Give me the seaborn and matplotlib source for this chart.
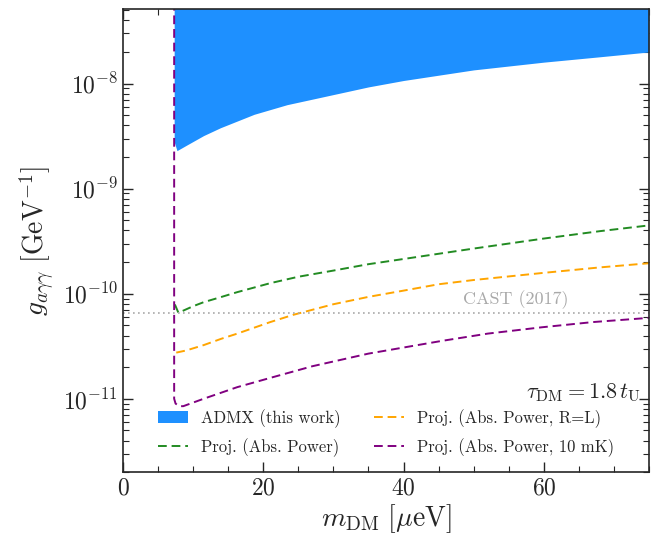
import numpy as np
import pandas as pd
import matplotlib
matplotlib.use('Agg')
import matplotlib.pyplot as plt
import seaborn as sns

# ── Data ──────────────────────────────────────────────────────────────────────
admx_mass  = [7.3, 7.45, 7.7, 9.1, 11.5, 13.9, 18.7, 23.4, 28.2, 35, 40, 50, 60, 68, 75]
admx_lower = [2.8e-9, 2.6e-9, 2.3e-9, 2.6e-9, 3.2e-9, 3.8e-9, 5.1e-9, 6.3e-9,
              7.4e-9, 9.3e-9, 1.07e-8, 1.35e-8, 1.6e-8, 1.8e-8, 2.0e-8]
admx_upper = 1e-7

green_mass = [7.4, 7.9, 8.6, 10, 11.5, 14, 16.3, 21, 25, 30, 35, 40, 50, 60, 68, 75]
green_g    = [7.9e-11, 6.6e-11, 6.9e-11, 7.6e-11, 8.3e-11, 9.3e-11, 1.035e-10,
              1.26e-10, 1.45e-10, 1.66e-10, 1.91e-10, 2.14e-10, 2.69e-10,
              3.35e-10, 3.94e-10, 4.47e-10]

orange_mass = [7.6, 9, 11.5, 14, 16.3, 21, 24.3, 30, 35, 40, 45, 50, 60, 68, 75]
orange_g    = [2.75e-11, 2.88e-11, 3.24e-11, 3.72e-11, 4.17e-11, 5.37e-11, 6.3e-11,
               7.94e-11, 9.33e-11, 1.07e-10, 1.23e-10, 1.35e-10, 1.58e-10,
               1.78e-10, 1.95e-10]

purple_mass = [7.3, 7.3, 7.5, 8.0, 8.6, 11.5, 16.3, 21, 27, 35, 45.4, 52, 59.7, 67, 75]
purple_g    = [6e-8, 1.0e-11, 9.0e-12, 8.5e-12, 8.5e-12, 1.0e-11, 1.29e-11, 1.58e-11,
               2.04e-11, 2.69e-11, 3.55e-11, 4.17e-11, 4.79e-11, 5.37e-11, 5.89e-11]

cast_g = 6.6e-11

# ── Style ─────────────────────────────────────────────────────────────────────
sns.set_style('ticks')
plt.rcParams['font.family'] = 'serif'
plt.rcParams['font.serif'] = ['cmr10', 'DejaVu Serif']
plt.rcParams['mathtext.fontset'] = 'cm'
plt.rcParams['axes.unicode_minus'] = False
plt.rcParams['axes.formatter.use_mathtext'] = True

fig = plt.figure(figsize=(6.61, 5.44), dpi=100)
ax = fig.add_axes([0.186, 0.132, 0.796, 0.851])

ax.fill_between(admx_mass, admx_lower, admx_upper, color='dodgerblue', lw=0,
                label='ADMX (this work)')

dash = (4.5, 2.5)
sns.lineplot(x=green_mass, y=green_g, ax=ax, color='forestgreen', lw=1.4,
             dashes=False, estimator=None, sort=False, label='Proj. (Abs. Power)')
sns.lineplot(x=orange_mass, y=orange_g, ax=ax, color='orange', lw=1.4,
             dashes=False, estimator=None, sort=False, label='Proj. (Abs. Power, R=L)')
sns.lineplot(x=purple_mass, y=purple_g, ax=ax, color='purple', lw=1.4,
             dashes=False, estimator=None, sort=False,
             label='Proj. (Abs. Power, 10 mK)')
for line in ax.get_lines():
    line.set_dashes(dash)

ax.axhline(cast_g, color='darkgray', lw=1.2, ls=(0, (1, 2)))
ax.text(56.0, cast_g * 1.08, 'CAST (2017)', color='darkgray', fontsize=13,
        ha='center', va='bottom')

ax.text(0.985, 0.148, r'$\tau_{\rm DM} = 1.8\, t_{\rm U}$', transform=ax.transAxes,
        ha='right', va='bottom', fontsize=16)

ax.set_yscale('log')
ax.set_xlim(0, 75)
ax.set_ylim(2e-12, 5.1e-8)
ax.set_xticks([0, 20, 40, 60])
ax.xaxis.set_minor_locator(matplotlib.ticker.MultipleLocator(5))
ax.set_xlabel(r'$m_{\rm DM}\ [\mu{\rm eV}]$', fontsize=20, labelpad=2)
ax.set_ylabel(r'$g_{a\gamma\gamma}\ [{\rm GeV}^{-1}]$', fontsize=20)

ax.tick_params(which='both', direction='in', top=True, right=True, labelsize=17)
ax.tick_params(which='major', length=7, width=1)
ax.tick_params(which='minor', length=4, width=0.8)
for s in ax.spines.values():
    s.set_linewidth(1.2)

handles, labels = ax.get_legend_handles_labels()
order = ['ADMX (this work)', 'Proj. (Abs. Power)', 'Proj. (Abs. Power, R=L)',
         'Proj. (Abs. Power, 10 mK)']
hmap = dict(zip(labels, handles))
ax.legend([hmap[k] for k in order], order, ncol=2, frameon=False, fontsize=12,
          loc='lower center', bbox_to_anchor=(0.5, 0.0), columnspacing=2.0,
          handlelength=1.8, labelspacing=0.65)

fig.savefig('out.png', dpi=100)
